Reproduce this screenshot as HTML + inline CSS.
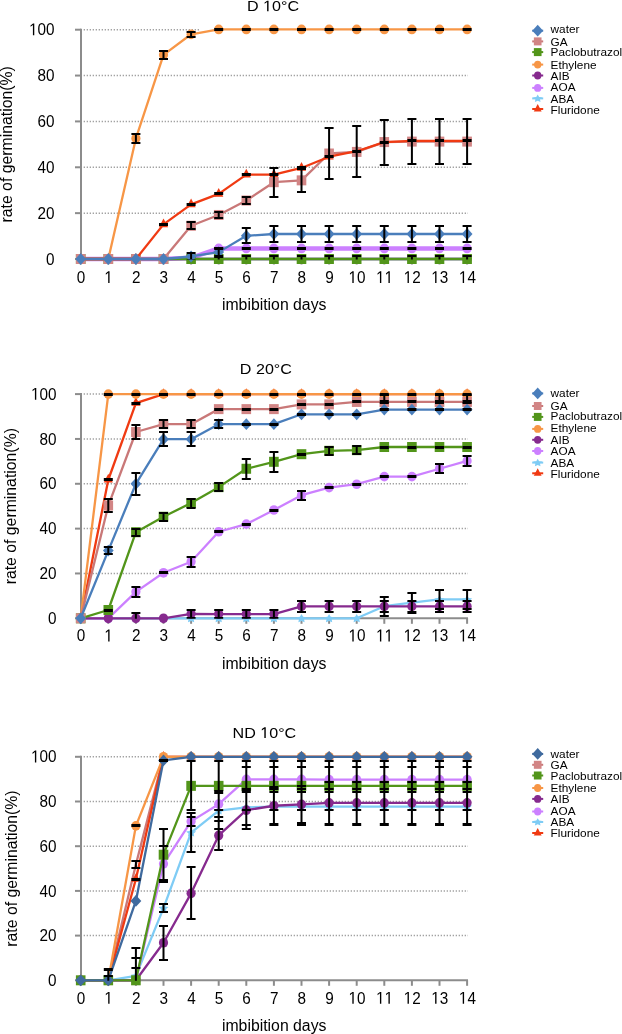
<!DOCTYPE html>
<html><head><meta charset="utf-8"><style>html,body{margin:0;padding:0;background:#fff;}svg{display:block;will-change:transform;}text{font-family:"Liberation Sans",sans-serif;}</style></head>
<body>
<svg width="622" height="1034" viewBox="0 0 622 1034" font-family='"Liberation Sans", sans-serif' fill="#000">
<rect width="622" height="1034" fill="#fff"/>
<line x1="83.7" y1="213.14" x2="468" y2="213.14" stroke="#989898" stroke-width="1.5" stroke-dasharray="1.2 1.8"/>
<line x1="83.7" y1="167.28" x2="468" y2="167.28" stroke="#989898" stroke-width="1.5" stroke-dasharray="1.2 1.8"/>
<line x1="83.7" y1="121.42" x2="468" y2="121.42" stroke="#989898" stroke-width="1.5" stroke-dasharray="1.2 1.8"/>
<line x1="83.7" y1="75.56" x2="468" y2="75.56" stroke="#989898" stroke-width="1.5" stroke-dasharray="1.2 1.8"/>
<line x1="83.7" y1="29.7" x2="200" y2="29.7" stroke="#989898" stroke-width="1.5" stroke-dasharray="1.2 1.8"/>
<line x1="81" y1="28.7" x2="81" y2="259" stroke="#8c8c8c" stroke-width="2"/>
<line x1="75" y1="259" x2="81" y2="259" stroke="#8c8c8c" stroke-width="2"/>
<line x1="75" y1="213.14" x2="81" y2="213.14" stroke="#8c8c8c" stroke-width="2"/>
<line x1="75" y1="167.28" x2="81" y2="167.28" stroke="#8c8c8c" stroke-width="2"/>
<line x1="75" y1="121.42" x2="81" y2="121.42" stroke="#8c8c8c" stroke-width="2"/>
<line x1="75" y1="75.56" x2="81" y2="75.56" stroke="#8c8c8c" stroke-width="2"/>
<line x1="75" y1="29.7" x2="81" y2="29.7" stroke="#8c8c8c" stroke-width="2"/>
<line x1="80" y1="259" x2="468" y2="259" stroke="#8c8c8c" stroke-width="2"/>
<line x1="80.7" y1="259" x2="80.7" y2="264.5" stroke="#8c8c8c" stroke-width="2"/>
<line x1="108.3" y1="259" x2="108.3" y2="264.5" stroke="#8c8c8c" stroke-width="2"/>
<line x1="135.9" y1="259" x2="135.9" y2="264.5" stroke="#8c8c8c" stroke-width="2"/>
<line x1="163.5" y1="259" x2="163.5" y2="264.5" stroke="#8c8c8c" stroke-width="2"/>
<line x1="191.1" y1="259" x2="191.1" y2="264.5" stroke="#8c8c8c" stroke-width="2"/>
<line x1="218.7" y1="259" x2="218.7" y2="264.5" stroke="#8c8c8c" stroke-width="2"/>
<line x1="246.3" y1="259" x2="246.3" y2="264.5" stroke="#8c8c8c" stroke-width="2"/>
<line x1="273.9" y1="259" x2="273.9" y2="264.5" stroke="#8c8c8c" stroke-width="2"/>
<line x1="301.5" y1="259" x2="301.5" y2="264.5" stroke="#8c8c8c" stroke-width="2"/>
<line x1="329.1" y1="259" x2="329.1" y2="264.5" stroke="#8c8c8c" stroke-width="2"/>
<line x1="356.7" y1="259" x2="356.7" y2="264.5" stroke="#8c8c8c" stroke-width="2"/>
<line x1="384.3" y1="259" x2="384.3" y2="264.5" stroke="#8c8c8c" stroke-width="2"/>
<line x1="411.9" y1="259" x2="411.9" y2="264.5" stroke="#8c8c8c" stroke-width="2"/>
<line x1="439.5" y1="259" x2="439.5" y2="264.5" stroke="#8c8c8c" stroke-width="2"/>
<line x1="467.1" y1="259" x2="467.1" y2="264.5" stroke="#8c8c8c" stroke-width="2"/>
<clipPath id="c259"><rect x="0" y="0" width="622" height="259.5"/></clipPath>
<path d="M80.7 253.1L85.3 261.8L76.1 261.8Z" fill="#F03A12"/>
<path d="M108.3 253.1L112.9 261.8L103.7 261.8Z" fill="#F03A12"/>
<path d="M135.9 253.1L140.5 261.8L131.3 261.8Z" fill="#F03A12"/>
<path d="M163.5 218.48L168.1 227.18L158.9 227.18Z" fill="#F03A12"/>
<path d="M191.1 198.53L195.7 207.23L186.5 207.23Z" fill="#F03A12"/>
<path d="M218.7 187.98L223.3 196.68L214.1 196.68Z" fill="#F03A12"/>
<path d="M246.3 168.72L250.9 177.42L241.7 177.42Z" fill="#F03A12"/>
<path d="M273.9 168.72L278.5 177.42L269.3 177.42Z" fill="#F03A12"/>
<path d="M301.5 162.07L306.1 170.77L296.9 170.77Z" fill="#F03A12"/>
<path d="M329.1 150.83L333.7 159.53L324.5 159.53Z" fill="#F03A12"/>
<path d="M356.7 145.33L361.3 154.03L352.1 154.03Z" fill="#F03A12"/>
<path d="M384.3 136.16L388.9 144.86L379.7 144.86Z" fill="#F03A12"/>
<path d="M411.9 135.01L416.5 143.71L407.3 143.71Z" fill="#F03A12"/>
<path d="M439.5 135.01L444.1 143.71L434.9 143.71Z" fill="#F03A12"/>
<path d="M467.1 135.01L471.7 143.71L462.5 143.71Z" fill="#F03A12"/>
<polyline points="80.7,259 108.3,259 135.9,259 163.5,259 191.1,259 218.7,259 246.3,259 273.9,259 301.5,259 329.1,259 356.7,259 384.3,259 411.9,259 439.5,259 467.1,259" fill="none" stroke="#7FCCF5" stroke-width="2.3" stroke-linejoin="round"/>
<path d="M80.7 254.8L82.29 257.44L85.74 257.91L83.27 260.01L83.82 262.94L80.7 261.6L77.58 262.94L78.13 260.01L75.66 257.91L79.11 257.44Z" fill="#7FCCF5"/>
<path d="M108.3 254.8L109.89 257.44L113.34 257.91L110.87 260.01L111.42 262.94L108.3 261.6L105.18 262.94L105.73 260.01L103.26 257.91L106.71 257.44Z" fill="#7FCCF5"/>
<path d="M135.9 254.8L137.49 257.44L140.94 257.91L138.47 260.01L139.02 262.94L135.9 261.6L132.78 262.94L133.33 260.01L130.86 257.91L134.31 257.44Z" fill="#7FCCF5"/>
<path d="M163.5 254.8L165.09 257.44L168.54 257.91L166.07 260.01L166.62 262.94L163.5 261.6L160.38 262.94L160.93 260.01L158.46 257.91L161.91 257.44Z" fill="#7FCCF5"/>
<path d="M191.1 254.8L192.69 257.44L196.14 257.91L193.67 260.01L194.22 262.94L191.1 261.6L187.98 262.94L188.53 260.01L186.06 257.91L189.51 257.44Z" fill="#7FCCF5"/>
<path d="M218.7 254.8L220.29 257.44L223.74 257.91L221.27 260.01L221.82 262.94L218.7 261.6L215.58 262.94L216.13 260.01L213.66 257.91L217.11 257.44Z" fill="#7FCCF5"/>
<path d="M246.3 254.8L247.89 257.44L251.34 257.91L248.87 260.01L249.42 262.94L246.3 261.6L243.18 262.94L243.73 260.01L241.26 257.91L244.71 257.44Z" fill="#7FCCF5"/>
<path d="M273.9 254.8L275.49 257.44L278.94 257.91L276.47 260.01L277.02 262.94L273.9 261.6L270.78 262.94L271.33 260.01L268.86 257.91L272.31 257.44Z" fill="#7FCCF5"/>
<path d="M301.5 254.8L303.09 257.44L306.54 257.91L304.07 260.01L304.62 262.94L301.5 261.6L298.38 262.94L298.93 260.01L296.46 257.91L299.91 257.44Z" fill="#7FCCF5"/>
<path d="M329.1 254.8L330.69 257.44L334.14 257.91L331.67 260.01L332.22 262.94L329.1 261.6L325.98 262.94L326.53 260.01L324.06 257.91L327.51 257.44Z" fill="#7FCCF5"/>
<path d="M356.7 254.8L358.29 257.44L361.74 257.91L359.27 260.01L359.82 262.94L356.7 261.6L353.58 262.94L354.13 260.01L351.66 257.91L355.11 257.44Z" fill="#7FCCF5"/>
<path d="M384.3 254.8L385.89 257.44L389.34 257.91L386.87 260.01L387.42 262.94L384.3 261.6L381.18 262.94L381.73 260.01L379.26 257.91L382.71 257.44Z" fill="#7FCCF5"/>
<path d="M411.9 254.8L413.49 257.44L416.94 257.91L414.47 260.01L415.02 262.94L411.9 261.6L408.78 262.94L409.33 260.01L406.86 257.91L410.31 257.44Z" fill="#7FCCF5"/>
<path d="M439.5 254.8L441.09 257.44L444.54 257.91L442.07 260.01L442.62 262.94L439.5 261.6L436.38 262.94L436.93 260.01L434.46 257.91L437.91 257.44Z" fill="#7FCCF5"/>
<path d="M467.1 254.8L468.69 257.44L472.14 257.91L469.67 260.01L470.22 262.94L467.1 261.6L463.98 262.94L464.53 260.01L462.06 257.91L465.51 257.44Z" fill="#7FCCF5"/>
<polyline points="80.7,259 108.3,259 135.9,259 163.5,259 191.1,257.85 218.7,248.45 246.3,248.45 273.9,248.45 301.5,248.45 329.1,248.45 356.7,248.45 384.3,248.45 411.9,248.45 439.5,248.45 467.1,248.45" fill="none" stroke="#CC80FF" stroke-width="4.5" stroke-linejoin="round"/>
<ellipse cx="80.7" cy="259" rx="4.6" ry="4.85" fill="#CC80FF"/>
<ellipse cx="108.3" cy="259" rx="4.6" ry="4.85" fill="#CC80FF"/>
<ellipse cx="135.9" cy="259" rx="4.6" ry="4.85" fill="#CC80FF"/>
<ellipse cx="163.5" cy="259" rx="4.6" ry="4.85" fill="#CC80FF"/>
<ellipse cx="191.1" cy="257.85" rx="4.6" ry="4.85" fill="#CC80FF"/>
<ellipse cx="218.7" cy="248.45" rx="4.6" ry="4.85" fill="#CC80FF"/>
<ellipse cx="246.3" cy="248.45" rx="4.6" ry="4.85" fill="#CC80FF"/>
<ellipse cx="273.9" cy="248.45" rx="4.6" ry="4.85" fill="#CC80FF"/>
<ellipse cx="301.5" cy="248.45" rx="4.6" ry="4.85" fill="#CC80FF"/>
<ellipse cx="329.1" cy="248.45" rx="4.6" ry="4.85" fill="#CC80FF"/>
<ellipse cx="356.7" cy="248.45" rx="4.6" ry="4.85" fill="#CC80FF"/>
<ellipse cx="384.3" cy="248.45" rx="4.6" ry="4.85" fill="#CC80FF"/>
<ellipse cx="411.9" cy="248.45" rx="4.6" ry="4.85" fill="#CC80FF"/>
<ellipse cx="439.5" cy="248.45" rx="4.6" ry="4.85" fill="#CC80FF"/>
<ellipse cx="467.1" cy="248.45" rx="4.6" ry="4.85" fill="#CC80FF"/>
<polyline points="80.7,259 108.3,259 135.9,259 163.5,259 191.1,259 218.7,259 246.3,259 273.9,259 301.5,259 329.1,259 356.7,259 384.3,259 411.9,259 439.5,259 467.1,259" fill="none" stroke="#862A8E" stroke-width="2.3" stroke-linejoin="round"/>
<ellipse cx="80.7" cy="259" rx="4.6" ry="4.85" fill="#862A8E"/>
<ellipse cx="108.3" cy="259" rx="4.6" ry="4.85" fill="#862A8E"/>
<ellipse cx="135.9" cy="259" rx="4.6" ry="4.85" fill="#862A8E"/>
<ellipse cx="163.5" cy="259" rx="4.6" ry="4.85" fill="#862A8E"/>
<ellipse cx="191.1" cy="259" rx="4.6" ry="4.85" fill="#862A8E"/>
<ellipse cx="218.7" cy="259" rx="4.6" ry="4.85" fill="#862A8E"/>
<ellipse cx="246.3" cy="259" rx="4.6" ry="4.85" fill="#862A8E"/>
<ellipse cx="273.9" cy="259" rx="4.6" ry="4.85" fill="#862A8E"/>
<ellipse cx="301.5" cy="259" rx="4.6" ry="4.85" fill="#862A8E"/>
<ellipse cx="329.1" cy="259" rx="4.6" ry="4.85" fill="#862A8E"/>
<ellipse cx="356.7" cy="259" rx="4.6" ry="4.85" fill="#862A8E"/>
<ellipse cx="384.3" cy="259" rx="4.6" ry="4.85" fill="#862A8E"/>
<ellipse cx="411.9" cy="259" rx="4.6" ry="4.85" fill="#862A8E"/>
<ellipse cx="439.5" cy="259" rx="4.6" ry="4.85" fill="#862A8E"/>
<ellipse cx="467.1" cy="259" rx="4.6" ry="4.85" fill="#862A8E"/>
<polyline points="80.7,259 108.3,259 135.9,138.39 163.5,54.92 191.1,34.29 218.7,29.47 246.3,29.47 273.9,29.47 301.5,29.47 329.1,29.47 356.7,29.47 384.3,29.47 411.9,29.47 439.5,29.47 467.1,29.47" fill="none" stroke="#F79646" stroke-width="2.3" stroke-linejoin="round"/>
<ellipse cx="80.7" cy="259" rx="4.6" ry="4.85" fill="#F79646"/>
<ellipse cx="108.3" cy="259" rx="4.6" ry="4.85" fill="#F79646"/>
<ellipse cx="135.9" cy="138.39" rx="4.6" ry="4.85" fill="#F79646"/>
<ellipse cx="163.5" cy="54.92" rx="4.6" ry="4.85" fill="#F79646"/>
<ellipse cx="191.1" cy="34.29" rx="4.6" ry="4.85" fill="#F79646"/>
<ellipse cx="218.7" cy="29.47" rx="4.6" ry="4.85" fill="#F79646"/>
<ellipse cx="246.3" cy="29.47" rx="4.6" ry="4.85" fill="#F79646"/>
<ellipse cx="273.9" cy="29.47" rx="4.6" ry="4.85" fill="#F79646"/>
<ellipse cx="301.5" cy="29.47" rx="4.6" ry="4.85" fill="#F79646"/>
<ellipse cx="329.1" cy="29.47" rx="4.6" ry="4.85" fill="#F79646"/>
<ellipse cx="356.7" cy="29.47" rx="4.6" ry="4.85" fill="#F79646"/>
<ellipse cx="384.3" cy="29.47" rx="4.6" ry="4.85" fill="#F79646"/>
<ellipse cx="411.9" cy="29.47" rx="4.6" ry="4.85" fill="#F79646"/>
<ellipse cx="439.5" cy="29.47" rx="4.6" ry="4.85" fill="#F79646"/>
<ellipse cx="467.1" cy="29.47" rx="4.6" ry="4.85" fill="#F79646"/>
<polyline points="80.7,259 108.3,259 135.9,259 163.5,259 191.1,259 218.7,259 246.3,259 273.9,259 301.5,259 329.1,259 356.7,259 384.3,259 411.9,259 439.5,259 467.1,259" fill="none" stroke="#52951A" stroke-width="2.3" stroke-linejoin="round"/>
<rect x="75.9" y="254" width="9.6" height="10" fill="#52951A"/>
<rect x="103.5" y="254" width="9.6" height="10" fill="#52951A"/>
<rect x="131.1" y="254" width="9.6" height="10" fill="#52951A"/>
<rect x="158.7" y="254" width="9.6" height="10" fill="#52951A"/>
<rect x="186.3" y="254" width="9.6" height="10" fill="#52951A"/>
<rect x="213.9" y="254" width="9.6" height="10" fill="#52951A"/>
<rect x="241.5" y="254" width="9.6" height="10" fill="#52951A"/>
<rect x="269.1" y="254" width="9.6" height="10" fill="#52951A"/>
<rect x="296.7" y="254" width="9.6" height="10" fill="#52951A"/>
<rect x="324.3" y="254" width="9.6" height="10" fill="#52951A"/>
<rect x="351.9" y="254" width="9.6" height="10" fill="#52951A"/>
<rect x="379.5" y="254" width="9.6" height="10" fill="#52951A"/>
<rect x="407.1" y="254" width="9.6" height="10" fill="#52951A"/>
<rect x="434.7" y="254" width="9.6" height="10" fill="#52951A"/>
<rect x="462.3" y="254" width="9.6" height="10" fill="#52951A"/>
<polyline points="80.7,259 108.3,259 135.9,259 163.5,259 191.1,225.75 218.7,214.97 246.3,200.53 273.9,182.18 301.5,180.35 329.1,153.52 356.7,151.92 384.3,142.06 411.9,141.6 439.5,141.6 467.1,141.6" fill="none" stroke="#C97878" stroke-width="2.3" stroke-linejoin="round"/>
<rect x="75.9" y="254" width="9.6" height="10" fill="#D28585"/>
<rect x="103.5" y="254" width="9.6" height="10" fill="#D28585"/>
<rect x="131.1" y="254" width="9.6" height="10" fill="#D28585"/>
<rect x="158.7" y="254" width="9.6" height="10" fill="#D28585"/>
<rect x="186.3" y="220.75" width="9.6" height="10" fill="#D28585"/>
<rect x="213.9" y="209.97" width="9.6" height="10" fill="#D28585"/>
<rect x="241.5" y="195.53" width="9.6" height="10" fill="#D28585"/>
<rect x="269.1" y="177.18" width="9.6" height="10" fill="#D28585"/>
<rect x="296.7" y="175.35" width="9.6" height="10" fill="#D28585"/>
<rect x="324.3" y="148.52" width="9.6" height="10" fill="#D28585"/>
<rect x="351.9" y="146.92" width="9.6" height="10" fill="#D28585"/>
<rect x="379.5" y="137.06" width="9.6" height="10" fill="#D28585"/>
<rect x="407.1" y="136.6" width="9.6" height="10" fill="#D28585"/>
<rect x="434.7" y="136.6" width="9.6" height="10" fill="#D28585"/>
<rect x="462.3" y="136.6" width="9.6" height="10" fill="#D28585"/>
<polyline points="80.7,259 108.3,259 135.9,259 163.5,224.38 191.1,204.43 218.7,193.88 246.3,174.62 273.9,174.62 301.5,167.97 329.1,156.73 356.7,151.23 384.3,142.06 411.9,140.91 439.5,140.91 467.1,140.91" fill="none" stroke="#F03A12" stroke-width="2.3" stroke-linejoin="round"/>
<polyline points="80.7,259 108.3,259 135.9,259 163.5,259 191.1,256.48 218.7,252.12 246.3,235.84 273.9,234.01 301.5,234.01 329.1,234.01 356.7,234.01 384.3,234.01 411.9,234.01 439.5,234.01 467.1,234.01" fill="none" stroke="#4A7EBB" stroke-width="2.3" stroke-linejoin="round"/>
<path d="M80.7 253.1L86.1 259L80.7 264.9L75.3 259Z" fill="#4A7EBB"/>
<path d="M108.3 253.1L113.7 259L108.3 264.9L102.9 259Z" fill="#4A7EBB"/>
<path d="M135.9 253.1L141.3 259L135.9 264.9L130.5 259Z" fill="#4A7EBB"/>
<path d="M163.5 253.1L168.9 259L163.5 264.9L158.1 259Z" fill="#4A7EBB"/>
<path d="M191.1 250.58L196.5 256.48L191.1 262.38L185.7 256.48Z" fill="#4A7EBB"/>
<path d="M218.7 246.22L224.1 252.12L218.7 258.02L213.3 252.12Z" fill="#4A7EBB"/>
<path d="M246.3 229.94L251.7 235.84L246.3 241.74L240.9 235.84Z" fill="#4A7EBB"/>
<path d="M273.9 228.11L279.3 234.01L273.9 239.91L268.5 234.01Z" fill="#4A7EBB"/>
<path d="M301.5 228.11L306.9 234.01L301.5 239.91L296.1 234.01Z" fill="#4A7EBB"/>
<path d="M329.1 228.11L334.5 234.01L329.1 239.91L323.7 234.01Z" fill="#4A7EBB"/>
<path d="M356.7 228.11L362.1 234.01L356.7 239.91L351.3 234.01Z" fill="#4A7EBB"/>
<path d="M384.3 228.11L389.7 234.01L384.3 239.91L378.9 234.01Z" fill="#4A7EBB"/>
<path d="M411.9 228.11L417.3 234.01L411.9 239.91L406.5 234.01Z" fill="#4A7EBB"/>
<path d="M439.5 228.11L444.9 234.01L439.5 239.91L434.1 234.01Z" fill="#4A7EBB"/>
<path d="M467.1 228.11L472.5 234.01L467.1 239.91L461.7 234.01Z" fill="#4A7EBB"/>
<path d="M135.9 134V143M131.4 134h9M131.4 143h9M163.5 51V59M159 51h9M159 59h9M191.1 32V37M186.6 32h9M186.6 37h9M218.7 256V262M214.2 256h9M214.2 262h9M246.3 256V262M241.8 256h9M241.8 262h9M273.9 256V262M269.4 256h9M269.4 262h9M301.5 256V262M297 256h9M297 262h9M329.1 256V262M324.6 256h9M324.6 262h9M356.7 256V262M352.2 256h9M352.2 262h9M384.3 256V262M379.8 256h9M379.8 262h9M411.9 256V262M407.4 256h9M407.4 262h9M439.5 256V262M435 256h9M435 262h9M467.1 256V262M462.6 256h9M462.6 262h9M191.1 222V229M186.6 222h9M186.6 229h9M218.7 212V218M214.2 212h9M214.2 218h9M246.3 197V204M241.8 197h9M241.8 204h9M273.9 168V197M269.4 168h9M269.4 197h9M301.5 169V192M297 169h9M297 192h9M329.1 128V179M324.6 128h9M324.6 179h9M356.7 126V177M352.2 126h9M352.2 177h9M384.3 120V165M379.8 120h9M379.8 165h9M411.9 119V164M407.4 119h9M407.4 164h9M439.5 119V164M435 119h9M435 164h9M467.1 119V164M462.6 119h9M462.6 164h9M191.1 253V260M186.6 253h9M186.6 260h9M218.7 248V257M214.2 248h9M214.2 257h9M246.3 228V243M241.8 228h9M241.8 243h9M273.9 226V242M269.4 226h9M269.4 242h9M301.5 226V242M297 226h9M297 242h9M329.1 226V242M324.6 226h9M324.6 242h9M356.7 226V242M352.2 226h9M352.2 242h9M384.3 226V242M379.8 226h9M379.8 242h9M411.9 226V242M407.4 226h9M407.4 242h9M439.5 226V242M435 226h9M435 242h9M467.1 226V242M462.6 226h9M462.6 242h9" stroke="#000" stroke-width="2" fill="none" clip-path="url(#c259)"/>
<path d="M159 224.5h9M186.6 204.5h9M214.2 193.5h9M241.8 174.5h9M269.4 174.5h9M297 167.5h9M324.6 156.5h9M352.2 151.5h9M379.8 142.5h9M407.4 140.5h9M435 140.5h9M462.6 140.5h9M214.2 248.5h9M241.8 248.5h9M269.4 248.5h9M297 248.5h9M324.6 248.5h9M352.2 248.5h9M379.8 248.5h9M407.4 248.5h9M435 248.5h9M462.6 248.5h9M214.2 29.5h9M241.8 29.5h9M269.4 29.5h9M297 29.5h9M324.6 29.5h9M352.2 29.5h9M379.8 29.5h9M407.4 29.5h9M435 29.5h9M462.6 29.5h9" stroke="#000" stroke-width="2.8" fill="none"/>
<g transform="translate(46.09 264.6) scale(1 1.12)"><text x="0" y="0" font-size="15.3" style="font-kerning:none">0</text></g>
<g transform="translate(37.58 218.74) scale(1 1.12)"><text x="0" y="0" font-size="15.3" style="font-kerning:none">20</text></g>
<g transform="translate(37.58 172.88) scale(1 1.12)"><text x="0" y="0" font-size="15.3" style="font-kerning:none">40</text></g>
<g transform="translate(37.58 127.02) scale(1 1.12)"><text x="0" y="0" font-size="15.3" style="font-kerning:none">60</text></g>
<g transform="translate(37.58 81.16) scale(1 1.12)"><text x="0" y="0" font-size="15.3" style="font-kerning:none">80</text></g>
<g transform="translate(29.07 35.3) scale(1 1.12)"><path transform="translate(0 0) scale(0.007471 -0.007471)" d="M515 0L515 1237L197 1010L197 1180L530 1409L696 1409L696 0Z"/><text x="8.51" y="0" font-size="15.3" style="font-kerning:none">00</text></g>
<g transform="translate(76.75 283.1) scale(1 1.12)"><text x="0" y="0" font-size="15.3" style="font-kerning:none">0</text></g>
<g transform="translate(104.35 283.1) scale(1 1.12)"><path transform="translate(0 0) scale(0.007471 -0.007471)" d="M515 0L515 1237L197 1010L197 1180L530 1409L696 1409L696 0Z"/></g>
<g transform="translate(131.95 283.1) scale(1 1.12)"><text x="0" y="0" font-size="15.3" style="font-kerning:none">2</text></g>
<g transform="translate(159.55 283.1) scale(1 1.12)"><text x="0" y="0" font-size="15.3" style="font-kerning:none">3</text></g>
<g transform="translate(187.15 283.1) scale(1 1.12)"><text x="0" y="0" font-size="15.3" style="font-kerning:none">4</text></g>
<g transform="translate(214.75 283.1) scale(1 1.12)"><text x="0" y="0" font-size="15.3" style="font-kerning:none">5</text></g>
<g transform="translate(242.35 283.1) scale(1 1.12)"><text x="0" y="0" font-size="15.3" style="font-kerning:none">6</text></g>
<g transform="translate(269.95 283.1) scale(1 1.12)"><text x="0" y="0" font-size="15.3" style="font-kerning:none">7</text></g>
<g transform="translate(297.55 283.1) scale(1 1.12)"><text x="0" y="0" font-size="15.3" style="font-kerning:none">8</text></g>
<g transform="translate(325.15 283.1) scale(1 1.12)"><text x="0" y="0" font-size="15.3" style="font-kerning:none">9</text></g>
<g transform="translate(348.49 283.1) scale(1 1.12)"><path transform="translate(0 0) scale(0.007471 -0.007471)" d="M515 0L515 1237L197 1010L197 1180L530 1409L696 1409L696 0Z"/><text x="8.51" y="0" font-size="15.3" style="font-kerning:none">0</text></g>
<g transform="translate(376.09 283.1) scale(1 1.12)"><path transform="translate(0 0) scale(0.007471 -0.007471)" d="M515 0L515 1237L197 1010L197 1180L530 1409L696 1409L696 0Z"/><path transform="translate(8.51 0) scale(0.007471 -0.007471)" d="M515 0L515 1237L197 1010L197 1180L530 1409L696 1409L696 0Z"/></g>
<g transform="translate(403.69 283.1) scale(1 1.12)"><path transform="translate(0 0) scale(0.007471 -0.007471)" d="M515 0L515 1237L197 1010L197 1180L530 1409L696 1409L696 0Z"/><text x="8.51" y="0" font-size="15.3" style="font-kerning:none">2</text></g>
<g transform="translate(431.29 283.1) scale(1 1.12)"><path transform="translate(0 0) scale(0.007471 -0.007471)" d="M515 0L515 1237L197 1010L197 1180L530 1409L696 1409L696 0Z"/><text x="8.51" y="0" font-size="15.3" style="font-kerning:none">3</text></g>
<g transform="translate(458.89 283.1) scale(1 1.12)"><path transform="translate(0 0) scale(0.007471 -0.007471)" d="M515 0L515 1237L197 1010L197 1180L530 1409L696 1409L696 0Z"/><text x="8.51" y="0" font-size="15.3" style="font-kerning:none">4</text></g>
<text x="274.2" y="310.1" text-anchor="middle" font-size="15.8">imbibition days</text>
<text transform="translate(11.8 144.35) rotate(-90)" text-anchor="middle" font-size="15.8">rate of germination(%)</text>
<g transform="translate(246.96 11.3) scale(1 0.96)"><text x="0" y="0" font-size="16.1" style="font-kerning:none">D </text><path transform="translate(16.1 0) scale(0.007861 -0.007861)" d="M515 0L515 1237L197 1010L197 1180L530 1409L696 1409L696 0Z"/><text x="25.05" y="0" font-size="16.1" style="font-kerning:none">0°C</text></g>
<line x1="532.2" y1="30.7" x2="543.2" y2="30.7" stroke="#4A7EBB" stroke-width="2"/>
<path d="M537.7 24.8L543.1 30.7L537.7 36.6L532.3 30.7Z" fill="#4A7EBB"/>
<text x="550.6" y="33" font-size="11.8">water</text>
<line x1="532.2" y1="41.4" x2="543.2" y2="41.4" stroke="#C97878" stroke-width="2"/>
<rect x="533.86" y="37.4" width="7.68" height="8" fill="#D28585"/>
<text x="550.6" y="45.8" font-size="11.8">GA</text>
<line x1="532.2" y1="52.1" x2="543.2" y2="52.1" stroke="#52951A" stroke-width="2"/>
<rect x="533.86" y="48.1" width="7.68" height="8" fill="#52951A"/>
<text x="550.6" y="56.2" font-size="11.8">Paclobutrazol</text>
<line x1="532.2" y1="64.6" x2="543.2" y2="64.6" stroke="#F79646" stroke-width="2"/>
<ellipse cx="537.7" cy="64.6" rx="3.68" ry="3.88" fill="#F79646"/>
<text x="550.6" y="69" font-size="11.8">Ethylene</text>
<line x1="532.2" y1="75.5" x2="543.2" y2="75.5" stroke="#862A8E" stroke-width="2"/>
<ellipse cx="537.7" cy="75.5" rx="3.68" ry="3.88" fill="#862A8E"/>
<text x="550.6" y="79.9" font-size="11.8">AIB</text>
<line x1="532.2" y1="87.9" x2="543.2" y2="87.9" stroke="#CC80FF" stroke-width="2"/>
<ellipse cx="537.7" cy="87.9" rx="3.68" ry="3.88" fill="#CC80FF"/>
<text x="550.6" y="90.5" font-size="11.8">AOA</text>
<line x1="532.2" y1="98.4" x2="543.2" y2="98.4" stroke="#7FCCF5" stroke-width="2"/>
<path d="M537.7 94.62L539.13 97L542.24 97.42L540.01 99.31L540.5 101.95L537.7 100.74L534.9 101.95L535.39 99.31L533.16 97.42L536.27 97Z" fill="#7FCCF5"/>
<text x="550.6" y="103" font-size="11.8">ABA</text>
<line x1="532.2" y1="109" x2="543.2" y2="109" stroke="#F03A12" stroke-width="2"/>
<path d="M537.7 103.98L541.61 111.38L533.79 111.38Z" fill="#F03A12"/>
<text x="550.6" y="114.3" font-size="11.8">Fluridone</text>
<line x1="83.7" y1="573.46" x2="468" y2="573.46" stroke="#989898" stroke-width="1.5" stroke-dasharray="1.2 1.8"/>
<line x1="83.7" y1="528.62" x2="468" y2="528.62" stroke="#989898" stroke-width="1.5" stroke-dasharray="1.2 1.8"/>
<line x1="83.7" y1="483.78" x2="468" y2="483.78" stroke="#989898" stroke-width="1.5" stroke-dasharray="1.2 1.8"/>
<line x1="83.7" y1="438.94" x2="468" y2="438.94" stroke="#989898" stroke-width="1.5" stroke-dasharray="1.2 1.8"/>
<line x1="83.7" y1="394.1" x2="105" y2="394.1" stroke="#989898" stroke-width="1.5" stroke-dasharray="1.2 1.8"/>
<line x1="81" y1="393.1" x2="81" y2="618.3" stroke="#8c8c8c" stroke-width="2"/>
<line x1="75" y1="618.3" x2="81" y2="618.3" stroke="#8c8c8c" stroke-width="2"/>
<line x1="75" y1="573.46" x2="81" y2="573.46" stroke="#8c8c8c" stroke-width="2"/>
<line x1="75" y1="528.62" x2="81" y2="528.62" stroke="#8c8c8c" stroke-width="2"/>
<line x1="75" y1="483.78" x2="81" y2="483.78" stroke="#8c8c8c" stroke-width="2"/>
<line x1="75" y1="438.94" x2="81" y2="438.94" stroke="#8c8c8c" stroke-width="2"/>
<line x1="75" y1="394.1" x2="81" y2="394.1" stroke="#8c8c8c" stroke-width="2"/>
<line x1="80" y1="618.3" x2="468" y2="618.3" stroke="#8c8c8c" stroke-width="2"/>
<line x1="80.7" y1="618.3" x2="80.7" y2="623.8" stroke="#8c8c8c" stroke-width="2"/>
<line x1="108.3" y1="618.3" x2="108.3" y2="623.8" stroke="#8c8c8c" stroke-width="2"/>
<line x1="135.9" y1="618.3" x2="135.9" y2="623.8" stroke="#8c8c8c" stroke-width="2"/>
<line x1="163.5" y1="618.3" x2="163.5" y2="623.8" stroke="#8c8c8c" stroke-width="2"/>
<line x1="191.1" y1="618.3" x2="191.1" y2="623.8" stroke="#8c8c8c" stroke-width="2"/>
<line x1="218.7" y1="618.3" x2="218.7" y2="623.8" stroke="#8c8c8c" stroke-width="2"/>
<line x1="246.3" y1="618.3" x2="246.3" y2="623.8" stroke="#8c8c8c" stroke-width="2"/>
<line x1="273.9" y1="618.3" x2="273.9" y2="623.8" stroke="#8c8c8c" stroke-width="2"/>
<line x1="301.5" y1="618.3" x2="301.5" y2="623.8" stroke="#8c8c8c" stroke-width="2"/>
<line x1="329.1" y1="618.3" x2="329.1" y2="623.8" stroke="#8c8c8c" stroke-width="2"/>
<line x1="356.7" y1="618.3" x2="356.7" y2="623.8" stroke="#8c8c8c" stroke-width="2"/>
<line x1="384.3" y1="618.3" x2="384.3" y2="623.8" stroke="#8c8c8c" stroke-width="2"/>
<line x1="411.9" y1="618.3" x2="411.9" y2="623.8" stroke="#8c8c8c" stroke-width="2"/>
<line x1="439.5" y1="618.3" x2="439.5" y2="623.8" stroke="#8c8c8c" stroke-width="2"/>
<line x1="467.1" y1="618.3" x2="467.1" y2="623.8" stroke="#8c8c8c" stroke-width="2"/>
<clipPath id="c618"><rect x="0" y="0" width="622" height="618.8"/></clipPath>
<polyline points="80.7,618.3 108.3,479.74 135.9,403.07 163.5,394.1 191.1,394.1 218.7,394.1 246.3,394.1 273.9,394.1 301.5,394.1 329.1,394.1 356.7,394.1 384.3,394.1 411.9,394.1 439.5,394.1 467.1,394.1" fill="none" stroke="#F03A12" stroke-width="2.3" stroke-linejoin="round"/>
<path d="M80.7 612.4L85.3 621.1L76.1 621.1Z" fill="#F03A12"/>
<path d="M108.3 473.84L112.9 482.54L103.7 482.54Z" fill="#F03A12"/>
<path d="M135.9 397.17L140.5 405.87L131.3 405.87Z" fill="#F03A12"/>
<path d="M163.5 388.2L168.1 396.9L158.9 396.9Z" fill="#F03A12"/>
<path d="M191.1 388.2L195.7 396.9L186.5 396.9Z" fill="#F03A12"/>
<path d="M218.7 388.2L223.3 396.9L214.1 396.9Z" fill="#F03A12"/>
<path d="M246.3 388.2L250.9 396.9L241.7 396.9Z" fill="#F03A12"/>
<path d="M273.9 388.2L278.5 396.9L269.3 396.9Z" fill="#F03A12"/>
<path d="M301.5 388.2L306.1 396.9L296.9 396.9Z" fill="#F03A12"/>
<path d="M329.1 388.2L333.7 396.9L324.5 396.9Z" fill="#F03A12"/>
<path d="M356.7 388.2L361.3 396.9L352.1 396.9Z" fill="#F03A12"/>
<path d="M384.3 388.2L388.9 396.9L379.7 396.9Z" fill="#F03A12"/>
<path d="M411.9 388.2L416.5 396.9L407.3 396.9Z" fill="#F03A12"/>
<path d="M439.5 388.2L444.1 396.9L434.9 396.9Z" fill="#F03A12"/>
<path d="M467.1 388.2L471.7 396.9L462.5 396.9Z" fill="#F03A12"/>
<polyline points="80.7,618.3 108.3,618.3 135.9,618.3 163.5,618.3 191.1,618.3 218.7,618.3 246.3,618.3 273.9,618.3 301.5,618.3 329.1,618.3 356.7,618.3 384.3,606.19 411.9,602.61 439.5,599.47 467.1,599.47" fill="none" stroke="#7FCCF5" stroke-width="2.3" stroke-linejoin="round"/>
<path d="M80.7 614.09L82.29 616.74L85.74 617.21L83.27 619.31L83.82 622.24L80.7 620.89L77.58 622.24L78.13 619.31L75.66 617.21L79.11 616.74Z" fill="#7FCCF5"/>
<path d="M108.3 614.09L109.89 616.74L113.34 617.21L110.87 619.31L111.42 622.24L108.3 620.89L105.18 622.24L105.73 619.31L103.26 617.21L106.71 616.74Z" fill="#7FCCF5"/>
<path d="M135.9 614.09L137.49 616.74L140.94 617.21L138.47 619.31L139.02 622.24L135.9 620.89L132.78 622.24L133.33 619.31L130.86 617.21L134.31 616.74Z" fill="#7FCCF5"/>
<path d="M163.5 614.09L165.09 616.74L168.54 617.21L166.07 619.31L166.62 622.24L163.5 620.89L160.38 622.24L160.93 619.31L158.46 617.21L161.91 616.74Z" fill="#7FCCF5"/>
<path d="M191.1 614.09L192.69 616.74L196.14 617.21L193.67 619.31L194.22 622.24L191.1 620.89L187.98 622.24L188.53 619.31L186.06 617.21L189.51 616.74Z" fill="#7FCCF5"/>
<path d="M218.7 614.09L220.29 616.74L223.74 617.21L221.27 619.31L221.82 622.24L218.7 620.89L215.58 622.24L216.13 619.31L213.66 617.21L217.11 616.74Z" fill="#7FCCF5"/>
<path d="M246.3 614.09L247.89 616.74L251.34 617.21L248.87 619.31L249.42 622.24L246.3 620.89L243.18 622.24L243.73 619.31L241.26 617.21L244.71 616.74Z" fill="#7FCCF5"/>
<path d="M273.9 614.09L275.49 616.74L278.94 617.21L276.47 619.31L277.02 622.24L273.9 620.89L270.78 622.24L271.33 619.31L268.86 617.21L272.31 616.74Z" fill="#7FCCF5"/>
<path d="M301.5 614.09L303.09 616.74L306.54 617.21L304.07 619.31L304.62 622.24L301.5 620.89L298.38 622.24L298.93 619.31L296.46 617.21L299.91 616.74Z" fill="#7FCCF5"/>
<path d="M329.1 614.09L330.69 616.74L334.14 617.21L331.67 619.31L332.22 622.24L329.1 620.89L325.98 622.24L326.53 619.31L324.06 617.21L327.51 616.74Z" fill="#7FCCF5"/>
<path d="M356.7 614.09L358.29 616.74L361.74 617.21L359.27 619.31L359.82 622.24L356.7 620.89L353.58 622.24L354.13 619.31L351.66 617.21L355.11 616.74Z" fill="#7FCCF5"/>
<path d="M384.3 601.99L385.89 604.64L389.34 605.1L386.87 607.2L387.42 610.14L384.3 608.79L381.18 610.14L381.73 607.2L379.26 605.1L382.71 604.64Z" fill="#7FCCF5"/>
<path d="M411.9 598.4L413.49 601.05L416.94 601.51L414.47 603.62L415.02 606.55L411.9 605.2L408.78 606.55L409.33 603.62L406.86 601.51L410.31 601.05Z" fill="#7FCCF5"/>
<path d="M439.5 595.26L441.09 597.91L444.54 598.38L442.07 600.48L442.62 603.41L439.5 602.06L436.38 603.41L436.93 600.48L434.46 598.38L437.91 597.91Z" fill="#7FCCF5"/>
<path d="M467.1 595.26L468.69 597.91L472.14 598.38L469.67 600.48L470.22 603.41L467.1 602.06L463.98 603.41L464.53 600.48L462.06 598.38L465.51 597.91Z" fill="#7FCCF5"/>
<polyline points="80.7,618.3 108.3,618.3 135.9,591.84 163.5,572.79 191.1,561.8 218.7,531.76 246.3,524.14 273.9,510.01 301.5,495.21 329.1,487.59 356.7,484.23 384.3,476.61 411.9,476.61 439.5,468.76 467.1,460.91" fill="none" stroke="#CC80FF" stroke-width="2.3" stroke-linejoin="round"/>
<ellipse cx="80.7" cy="618.3" rx="4.6" ry="4.85" fill="#CC80FF"/>
<ellipse cx="108.3" cy="618.3" rx="4.6" ry="4.85" fill="#CC80FF"/>
<ellipse cx="135.9" cy="591.84" rx="4.6" ry="4.85" fill="#CC80FF"/>
<ellipse cx="163.5" cy="572.79" rx="4.6" ry="4.85" fill="#CC80FF"/>
<ellipse cx="191.1" cy="561.8" rx="4.6" ry="4.85" fill="#CC80FF"/>
<ellipse cx="218.7" cy="531.76" rx="4.6" ry="4.85" fill="#CC80FF"/>
<ellipse cx="246.3" cy="524.14" rx="4.6" ry="4.85" fill="#CC80FF"/>
<ellipse cx="273.9" cy="510.01" rx="4.6" ry="4.85" fill="#CC80FF"/>
<ellipse cx="301.5" cy="495.21" rx="4.6" ry="4.85" fill="#CC80FF"/>
<ellipse cx="329.1" cy="487.59" rx="4.6" ry="4.85" fill="#CC80FF"/>
<ellipse cx="356.7" cy="484.23" rx="4.6" ry="4.85" fill="#CC80FF"/>
<ellipse cx="384.3" cy="476.61" rx="4.6" ry="4.85" fill="#CC80FF"/>
<ellipse cx="411.9" cy="476.61" rx="4.6" ry="4.85" fill="#CC80FF"/>
<ellipse cx="439.5" cy="468.76" rx="4.6" ry="4.85" fill="#CC80FF"/>
<ellipse cx="467.1" cy="460.91" rx="4.6" ry="4.85" fill="#CC80FF"/>
<polyline points="80.7,618.3 108.3,618.3 135.9,618.3 163.5,618.3 191.1,613.82 218.7,614.04 246.3,614.04 273.9,614.04 301.5,606.42 329.1,606.42 356.7,606.42 384.3,606.42 411.9,606.42 439.5,606.42 467.1,606.42" fill="none" stroke="#862A8E" stroke-width="2.3" stroke-linejoin="round"/>
<ellipse cx="80.7" cy="618.3" rx="4.6" ry="4.85" fill="#862A8E"/>
<ellipse cx="108.3" cy="618.3" rx="4.6" ry="4.85" fill="#862A8E"/>
<ellipse cx="135.9" cy="618.3" rx="4.6" ry="4.85" fill="#862A8E"/>
<ellipse cx="163.5" cy="618.3" rx="4.6" ry="4.85" fill="#862A8E"/>
<ellipse cx="191.1" cy="613.82" rx="4.6" ry="4.85" fill="#862A8E"/>
<ellipse cx="218.7" cy="614.04" rx="4.6" ry="4.85" fill="#862A8E"/>
<ellipse cx="246.3" cy="614.04" rx="4.6" ry="4.85" fill="#862A8E"/>
<ellipse cx="273.9" cy="614.04" rx="4.6" ry="4.85" fill="#862A8E"/>
<ellipse cx="301.5" cy="606.42" rx="4.6" ry="4.85" fill="#862A8E"/>
<ellipse cx="329.1" cy="606.42" rx="4.6" ry="4.85" fill="#862A8E"/>
<ellipse cx="356.7" cy="606.42" rx="4.6" ry="4.85" fill="#862A8E"/>
<ellipse cx="384.3" cy="606.42" rx="4.6" ry="4.85" fill="#862A8E"/>
<ellipse cx="411.9" cy="606.42" rx="4.6" ry="4.85" fill="#862A8E"/>
<ellipse cx="439.5" cy="606.42" rx="4.6" ry="4.85" fill="#862A8E"/>
<ellipse cx="467.1" cy="606.42" rx="4.6" ry="4.85" fill="#862A8E"/>
<polyline points="80.7,618.3 108.3,394.1 135.9,394.1 163.5,394.1 191.1,394.1 218.7,394.1 246.3,394.1 273.9,394.1 301.5,394.1 329.1,394.1 356.7,394.1 384.3,394.1 411.9,394.1 439.5,394.1 467.1,394.1" fill="none" stroke="#F79646" stroke-width="2.3" stroke-linejoin="round"/>
<ellipse cx="80.7" cy="618.3" rx="4.6" ry="4.85" fill="#F79646"/>
<ellipse cx="108.3" cy="394.1" rx="4.6" ry="4.85" fill="#F79646"/>
<ellipse cx="135.9" cy="394.1" rx="4.6" ry="4.85" fill="#F79646"/>
<ellipse cx="163.5" cy="394.1" rx="4.6" ry="4.85" fill="#F79646"/>
<ellipse cx="191.1" cy="394.1" rx="4.6" ry="4.85" fill="#F79646"/>
<ellipse cx="218.7" cy="394.1" rx="4.6" ry="4.85" fill="#F79646"/>
<ellipse cx="246.3" cy="394.1" rx="4.6" ry="4.85" fill="#F79646"/>
<ellipse cx="273.9" cy="394.1" rx="4.6" ry="4.85" fill="#F79646"/>
<ellipse cx="301.5" cy="394.1" rx="4.6" ry="4.85" fill="#F79646"/>
<ellipse cx="329.1" cy="394.1" rx="4.6" ry="4.85" fill="#F79646"/>
<ellipse cx="356.7" cy="394.1" rx="4.6" ry="4.85" fill="#F79646"/>
<ellipse cx="384.3" cy="394.1" rx="4.6" ry="4.85" fill="#F79646"/>
<ellipse cx="411.9" cy="394.1" rx="4.6" ry="4.85" fill="#F79646"/>
<ellipse cx="439.5" cy="394.1" rx="4.6" ry="4.85" fill="#F79646"/>
<ellipse cx="467.1" cy="394.1" rx="4.6" ry="4.85" fill="#F79646"/>
<polyline points="80.7,618.3 108.3,610 135.9,532.21 163.5,516.74 191.1,503.06 218.7,487.14 246.3,468.76 273.9,461.81 301.5,454.19 329.1,450.82 356.7,450.15 384.3,447.01 411.9,447.01 439.5,447.01 467.1,447.01" fill="none" stroke="#52951A" stroke-width="2.3" stroke-linejoin="round"/>
<rect x="75.9" y="613.3" width="9.6" height="10" fill="#52951A"/>
<rect x="103.5" y="605" width="9.6" height="10" fill="#52951A"/>
<rect x="131.1" y="527.21" width="9.6" height="10" fill="#52951A"/>
<rect x="158.7" y="511.74" width="9.6" height="10" fill="#52951A"/>
<rect x="186.3" y="498.06" width="9.6" height="10" fill="#52951A"/>
<rect x="213.9" y="482.14" width="9.6" height="10" fill="#52951A"/>
<rect x="241.5" y="463.76" width="9.6" height="10" fill="#52951A"/>
<rect x="269.1" y="456.81" width="9.6" height="10" fill="#52951A"/>
<rect x="296.7" y="449.19" width="9.6" height="10" fill="#52951A"/>
<rect x="324.3" y="445.82" width="9.6" height="10" fill="#52951A"/>
<rect x="351.9" y="445.15" width="9.6" height="10" fill="#52951A"/>
<rect x="379.5" y="442.01" width="9.6" height="10" fill="#52951A"/>
<rect x="407.1" y="442.01" width="9.6" height="10" fill="#52951A"/>
<rect x="434.7" y="442.01" width="9.6" height="10" fill="#52951A"/>
<rect x="462.3" y="442.01" width="9.6" height="10" fill="#52951A"/>
<polyline points="80.7,618.3 108.3,505.53 135.9,431.99 163.5,424.14 191.1,424.14 218.7,409.12 246.3,409.12 273.9,409.12 301.5,404.41 329.1,404.41 356.7,401.95 384.3,401.95 411.9,401.95 439.5,401.95 467.1,401.95" fill="none" stroke="#C97878" stroke-width="2.3" stroke-linejoin="round"/>
<rect x="75.9" y="613.3" width="9.6" height="10" fill="#D28585"/>
<rect x="103.5" y="500.53" width="9.6" height="10" fill="#D28585"/>
<rect x="131.1" y="426.99" width="9.6" height="10" fill="#D28585"/>
<rect x="158.7" y="419.14" width="9.6" height="10" fill="#D28585"/>
<rect x="186.3" y="419.14" width="9.6" height="10" fill="#D28585"/>
<rect x="213.9" y="404.12" width="9.6" height="10" fill="#D28585"/>
<rect x="241.5" y="404.12" width="9.6" height="10" fill="#D28585"/>
<rect x="269.1" y="404.12" width="9.6" height="10" fill="#D28585"/>
<rect x="296.7" y="399.41" width="9.6" height="10" fill="#D28585"/>
<rect x="324.3" y="399.41" width="9.6" height="10" fill="#D28585"/>
<rect x="351.9" y="396.95" width="9.6" height="10" fill="#D28585"/>
<rect x="379.5" y="396.95" width="9.6" height="10" fill="#D28585"/>
<rect x="407.1" y="396.95" width="9.6" height="10" fill="#D28585"/>
<rect x="434.7" y="396.95" width="9.6" height="10" fill="#D28585"/>
<rect x="462.3" y="396.95" width="9.6" height="10" fill="#D28585"/>
<polyline points="80.7,618.3 108.3,550.59 135.9,483.78 163.5,439.16 191.1,439.16 218.7,424.14 246.3,424.14 273.9,424.14 301.5,414.28 329.1,414.28 356.7,414.28 384.3,409.57 411.9,409.57 439.5,409.57 467.1,409.57" fill="none" stroke="#4A7EBB" stroke-width="2.3" stroke-linejoin="round"/>
<path d="M80.7 612.4L86.1 618.3L80.7 624.2L75.3 618.3Z" fill="#4A7EBB"/>
<path d="M108.3 544.69L113.7 550.59L108.3 556.49L102.9 550.59Z" fill="#4A7EBB"/>
<path d="M135.9 477.88L141.3 483.78L135.9 489.68L130.5 483.78Z" fill="#4A7EBB"/>
<path d="M163.5 433.26L168.9 439.16L163.5 445.06L158.1 439.16Z" fill="#4A7EBB"/>
<path d="M191.1 433.26L196.5 439.16L191.1 445.06L185.7 439.16Z" fill="#4A7EBB"/>
<path d="M218.7 418.24L224.1 424.14L218.7 430.04L213.3 424.14Z" fill="#4A7EBB"/>
<path d="M246.3 418.24L251.7 424.14L246.3 430.04L240.9 424.14Z" fill="#4A7EBB"/>
<path d="M273.9 418.24L279.3 424.14L273.9 430.04L268.5 424.14Z" fill="#4A7EBB"/>
<path d="M301.5 408.38L306.9 414.28L301.5 420.18L296.1 414.28Z" fill="#4A7EBB"/>
<path d="M329.1 408.38L334.5 414.28L329.1 420.18L323.7 414.28Z" fill="#4A7EBB"/>
<path d="M356.7 408.38L362.1 414.28L356.7 420.18L351.3 414.28Z" fill="#4A7EBB"/>
<path d="M384.3 403.67L389.7 409.57L384.3 415.47L378.9 409.57Z" fill="#4A7EBB"/>
<path d="M411.9 403.67L417.3 409.57L411.9 415.47L406.5 409.57Z" fill="#4A7EBB"/>
<path d="M439.5 403.67L444.9 409.57L439.5 415.47L434.1 409.57Z" fill="#4A7EBB"/>
<path d="M467.1 403.67L472.5 409.57L467.1 415.47L461.7 409.57Z" fill="#4A7EBB"/>
<path d="M384.3 597V616M379.8 597h9M379.8 616h9M411.9 593V613M407.4 593h9M407.4 613h9M439.5 590V609M435 590h9M435 609h9M467.1 590V609M462.6 590h9M462.6 609h9M135.9 587V597M131.4 587h9M131.4 597h9M191.1 557V567M186.6 557h9M186.6 567h9M301.5 491V500M297 491h9M297 500h9M439.5 464V473M435 464h9M435 473h9M467.1 456V466M462.6 456h9M462.6 466h9M135.9 613V623M131.4 613h9M131.4 623h9M191.1 610V618M186.6 610h9M186.6 618h9M218.7 610V618M214.2 610h9M214.2 618h9M246.3 610V618M241.8 610h9M241.8 618h9M273.9 610V618M269.4 610h9M269.4 618h9M301.5 601V612M297 601h9M297 612h9M329.1 601V612M324.6 601h9M324.6 612h9M356.7 601V612M352.2 601h9M352.2 612h9M384.3 601V612M379.8 601h9M379.8 612h9M411.9 601V612M407.4 601h9M407.4 612h9M439.5 601V612M435 601h9M435 612h9M467.1 601V612M462.6 601h9M462.6 612h9M135.9 529V536M131.4 529h9M131.4 536h9M163.5 513V521M159 513h9M159 521h9M191.1 499V508M186.6 499h9M186.6 508h9M218.7 483V491M214.2 483h9M214.2 491h9M246.3 459V479M241.8 459h9M241.8 479h9M273.9 452V472M269.4 452h9M269.4 472h9M329.1 447V455M324.6 447h9M324.6 455h9M356.7 446V454M352.2 446h9M352.2 454h9M108.3 499V512M103.8 499h9M103.8 512h9M135.9 425V439M131.4 425h9M131.4 439h9M163.5 420V428M159 420h9M159 428h9M191.1 420V428M186.6 420h9M186.6 428h9M108.3 547V554M103.8 547h9M103.8 554h9M135.9 473V495M131.4 473h9M131.4 495h9M163.5 432V446M159 432h9M159 446h9M191.1 432V446M186.6 432h9M186.6 446h9M218.7 420V428M214.2 420h9M214.2 428h9M384.3 395V403M379.8 395h9M379.8 403h9M439.5 395V403M435 395h9M435 403h9M467.1 395V403M462.6 395h9M462.6 403h9" stroke="#000" stroke-width="2" fill="none" clip-path="url(#c618)"/>
<path d="M103.8 479.5h9M131.4 403.5h9M159 572.5h9M214.2 531.5h9M241.8 524.5h9M269.4 510.5h9M324.6 487.5h9M352.2 484.5h9M379.8 476.5h9M407.4 476.5h9M103.8 394.5h9M131.4 394.5h9M159 394.5h9M186.6 394.5h9M214.2 394.5h9M241.8 394.5h9M269.4 394.5h9M297 394.5h9M324.6 394.5h9M352.2 394.5h9M379.8 394.5h9M407.4 394.5h9M435 394.5h9M462.6 394.5h9M103.8 610.5h9M297 454.5h9M379.8 447.5h9M407.4 447.5h9M435 447.5h9M462.6 447.5h9M214.2 409.5h9M241.8 409.5h9M269.4 409.5h9M297 404.5h9M324.6 404.5h9M352.2 401.5h9M379.8 401.5h9M407.4 401.5h9M435 401.5h9M462.6 401.5h9M241.8 424.5h9M269.4 424.5h9M297 414.5h9M324.6 414.5h9M352.2 414.5h9M379.8 409.5h9M407.4 409.5h9M435 409.5h9M462.6 409.5h9" stroke="#000" stroke-width="2.8" fill="none"/>
<g transform="translate(48.09 623.9) scale(1 1.12)"><text x="0" y="0" font-size="15.3" style="font-kerning:none">0</text></g>
<g transform="translate(39.58 579.06) scale(1 1.12)"><text x="0" y="0" font-size="15.3" style="font-kerning:none">20</text></g>
<g transform="translate(39.58 534.22) scale(1 1.12)"><text x="0" y="0" font-size="15.3" style="font-kerning:none">40</text></g>
<g transform="translate(39.58 489.38) scale(1 1.12)"><text x="0" y="0" font-size="15.3" style="font-kerning:none">60</text></g>
<g transform="translate(39.58 444.54) scale(1 1.12)"><text x="0" y="0" font-size="15.3" style="font-kerning:none">80</text></g>
<g transform="translate(31.07 399.7) scale(1 1.12)"><path transform="translate(0 0) scale(0.007471 -0.007471)" d="M515 0L515 1237L197 1010L197 1180L530 1409L696 1409L696 0Z"/><text x="8.51" y="0" font-size="15.3" style="font-kerning:none">00</text></g>
<g transform="translate(76.75 641.4) scale(1 1.12)"><text x="0" y="0" font-size="15.3" style="font-kerning:none">0</text></g>
<g transform="translate(104.35 641.4) scale(1 1.12)"><path transform="translate(0 0) scale(0.007471 -0.007471)" d="M515 0L515 1237L197 1010L197 1180L530 1409L696 1409L696 0Z"/></g>
<g transform="translate(131.95 641.4) scale(1 1.12)"><text x="0" y="0" font-size="15.3" style="font-kerning:none">2</text></g>
<g transform="translate(159.55 641.4) scale(1 1.12)"><text x="0" y="0" font-size="15.3" style="font-kerning:none">3</text></g>
<g transform="translate(187.15 641.4) scale(1 1.12)"><text x="0" y="0" font-size="15.3" style="font-kerning:none">4</text></g>
<g transform="translate(214.75 641.4) scale(1 1.12)"><text x="0" y="0" font-size="15.3" style="font-kerning:none">5</text></g>
<g transform="translate(242.35 641.4) scale(1 1.12)"><text x="0" y="0" font-size="15.3" style="font-kerning:none">6</text></g>
<g transform="translate(269.95 641.4) scale(1 1.12)"><text x="0" y="0" font-size="15.3" style="font-kerning:none">7</text></g>
<g transform="translate(297.55 641.4) scale(1 1.12)"><text x="0" y="0" font-size="15.3" style="font-kerning:none">8</text></g>
<g transform="translate(325.15 641.4) scale(1 1.12)"><text x="0" y="0" font-size="15.3" style="font-kerning:none">9</text></g>
<g transform="translate(348.49 641.4) scale(1 1.12)"><path transform="translate(0 0) scale(0.007471 -0.007471)" d="M515 0L515 1237L197 1010L197 1180L530 1409L696 1409L696 0Z"/><text x="8.51" y="0" font-size="15.3" style="font-kerning:none">0</text></g>
<g transform="translate(376.09 641.4) scale(1 1.12)"><path transform="translate(0 0) scale(0.007471 -0.007471)" d="M515 0L515 1237L197 1010L197 1180L530 1409L696 1409L696 0Z"/><path transform="translate(8.51 0) scale(0.007471 -0.007471)" d="M515 0L515 1237L197 1010L197 1180L530 1409L696 1409L696 0Z"/></g>
<g transform="translate(403.69 641.4) scale(1 1.12)"><path transform="translate(0 0) scale(0.007471 -0.007471)" d="M515 0L515 1237L197 1010L197 1180L530 1409L696 1409L696 0Z"/><text x="8.51" y="0" font-size="15.3" style="font-kerning:none">2</text></g>
<g transform="translate(431.29 641.4) scale(1 1.12)"><path transform="translate(0 0) scale(0.007471 -0.007471)" d="M515 0L515 1237L197 1010L197 1180L530 1409L696 1409L696 0Z"/><text x="8.51" y="0" font-size="15.3" style="font-kerning:none">3</text></g>
<g transform="translate(458.89 641.4) scale(1 1.12)"><path transform="translate(0 0) scale(0.007471 -0.007471)" d="M515 0L515 1237L197 1010L197 1180L530 1409L696 1409L696 0Z"/><text x="8.51" y="0" font-size="15.3" style="font-kerning:none">4</text></g>
<text x="274.2" y="668.7" text-anchor="middle" font-size="15.8">imbibition days</text>
<text transform="translate(16.3 506.2) rotate(-90)" text-anchor="middle" font-size="15.8">rate of germination(%)</text>
<g transform="translate(239.86 373.7) scale(1 0.96)"><text x="0" y="0" font-size="16.1" style="font-kerning:none">D 20°C</text></g>
<line x1="532.2" y1="393.4" x2="543.2" y2="393.4" stroke="#4A7EBB" stroke-width="2"/>
<path d="M537.7 387.5L543.1 393.4L537.7 399.3L532.3 393.4Z" fill="#4A7EBB"/>
<text x="550.6" y="397.2" font-size="11.8">water</text>
<line x1="532.2" y1="406" x2="543.2" y2="406" stroke="#C97878" stroke-width="2"/>
<rect x="533.86" y="402" width="7.68" height="8" fill="#D28585"/>
<text x="550.6" y="409.8" font-size="11.8">GA</text>
<line x1="532.2" y1="416.9" x2="543.2" y2="416.9" stroke="#52951A" stroke-width="2"/>
<rect x="533.86" y="412.9" width="7.68" height="8" fill="#52951A"/>
<text x="550.6" y="420.4" font-size="11.8">Paclobutrazol</text>
<line x1="532.2" y1="428.9" x2="543.2" y2="428.9" stroke="#F79646" stroke-width="2"/>
<ellipse cx="537.7" cy="428.9" rx="3.68" ry="3.88" fill="#F79646"/>
<text x="550.6" y="431.7" font-size="11.8">Ethylene</text>
<line x1="532.2" y1="439.8" x2="543.2" y2="439.8" stroke="#862A8E" stroke-width="2"/>
<ellipse cx="537.7" cy="439.8" rx="3.68" ry="3.88" fill="#862A8E"/>
<text x="550.6" y="443.8" font-size="11.8">AIB</text>
<line x1="532.2" y1="451" x2="543.2" y2="451" stroke="#CC80FF" stroke-width="2"/>
<ellipse cx="537.7" cy="451" rx="3.68" ry="3.88" fill="#CC80FF"/>
<text x="550.6" y="454.6" font-size="11.8">AOA</text>
<line x1="532.2" y1="462.6" x2="543.2" y2="462.6" stroke="#7FCCF5" stroke-width="2"/>
<path d="M537.7 458.82L539.13 461.2L542.24 461.62L540.01 463.51L540.5 466.15L537.7 464.94L534.9 466.15L535.39 463.51L533.16 461.62L536.27 461.2Z" fill="#7FCCF5"/>
<text x="550.6" y="466.7" font-size="11.8">ABA</text>
<line x1="532.2" y1="473.3" x2="543.2" y2="473.3" stroke="#F03A12" stroke-width="2"/>
<path d="M537.7 468.29L541.61 475.68L533.79 475.68Z" fill="#F03A12"/>
<text x="550.6" y="478.1" font-size="11.8">Fluridone</text>
<line x1="83.7" y1="935.6" x2="468" y2="935.6" stroke="#989898" stroke-width="1.5" stroke-dasharray="1.2 1.8"/>
<line x1="83.7" y1="890.9" x2="468" y2="890.9" stroke="#989898" stroke-width="1.5" stroke-dasharray="1.2 1.8"/>
<line x1="83.7" y1="846.2" x2="468" y2="846.2" stroke="#989898" stroke-width="1.5" stroke-dasharray="1.2 1.8"/>
<line x1="83.7" y1="801.5" x2="468" y2="801.5" stroke="#989898" stroke-width="1.5" stroke-dasharray="1.2 1.8"/>
<line x1="83.7" y1="756.8" x2="160" y2="756.8" stroke="#989898" stroke-width="1.5" stroke-dasharray="1.2 1.8"/>
<line x1="81" y1="755.8" x2="81" y2="980.3" stroke="#8c8c8c" stroke-width="2"/>
<line x1="75" y1="980.3" x2="81" y2="980.3" stroke="#8c8c8c" stroke-width="2"/>
<line x1="75" y1="935.6" x2="81" y2="935.6" stroke="#8c8c8c" stroke-width="2"/>
<line x1="75" y1="890.9" x2="81" y2="890.9" stroke="#8c8c8c" stroke-width="2"/>
<line x1="75" y1="846.2" x2="81" y2="846.2" stroke="#8c8c8c" stroke-width="2"/>
<line x1="75" y1="801.5" x2="81" y2="801.5" stroke="#8c8c8c" stroke-width="2"/>
<line x1="75" y1="756.8" x2="81" y2="756.8" stroke="#8c8c8c" stroke-width="2"/>
<line x1="80" y1="980.3" x2="468" y2="980.3" stroke="#8c8c8c" stroke-width="2"/>
<line x1="80.7" y1="980.3" x2="80.7" y2="985.8" stroke="#8c8c8c" stroke-width="2"/>
<line x1="108.3" y1="980.3" x2="108.3" y2="985.8" stroke="#8c8c8c" stroke-width="2"/>
<line x1="135.9" y1="980.3" x2="135.9" y2="985.8" stroke="#8c8c8c" stroke-width="2"/>
<line x1="163.5" y1="980.3" x2="163.5" y2="985.8" stroke="#8c8c8c" stroke-width="2"/>
<line x1="191.1" y1="980.3" x2="191.1" y2="985.8" stroke="#8c8c8c" stroke-width="2"/>
<line x1="218.7" y1="980.3" x2="218.7" y2="985.8" stroke="#8c8c8c" stroke-width="2"/>
<line x1="246.3" y1="980.3" x2="246.3" y2="985.8" stroke="#8c8c8c" stroke-width="2"/>
<line x1="273.9" y1="980.3" x2="273.9" y2="985.8" stroke="#8c8c8c" stroke-width="2"/>
<line x1="301.5" y1="980.3" x2="301.5" y2="985.8" stroke="#8c8c8c" stroke-width="2"/>
<line x1="329.1" y1="980.3" x2="329.1" y2="985.8" stroke="#8c8c8c" stroke-width="2"/>
<line x1="356.7" y1="980.3" x2="356.7" y2="985.8" stroke="#8c8c8c" stroke-width="2"/>
<line x1="384.3" y1="980.3" x2="384.3" y2="985.8" stroke="#8c8c8c" stroke-width="2"/>
<line x1="411.9" y1="980.3" x2="411.9" y2="985.8" stroke="#8c8c8c" stroke-width="2"/>
<line x1="439.5" y1="980.3" x2="439.5" y2="985.8" stroke="#8c8c8c" stroke-width="2"/>
<line x1="467.1" y1="980.3" x2="467.1" y2="985.8" stroke="#8c8c8c" stroke-width="2"/>
<clipPath id="c980"><rect x="0" y="0" width="622" height="980.8"/></clipPath>
<polyline points="80.7,980.3 108.3,980.3 135.9,975.83 163.5,908.11 191.1,832.57 218.7,810.66 246.3,807.31 273.9,806.64 301.5,806.64 329.1,806.64 356.7,806.64 384.3,806.64 411.9,806.64 439.5,806.64 467.1,806.64" fill="none" stroke="#7FCCF5" stroke-width="2.3" stroke-linejoin="round"/>
<path d="M80.7 976.09L82.29 978.74L85.74 979.21L83.27 981.31L83.82 984.24L80.7 982.89L77.58 984.24L78.13 981.31L75.66 979.21L79.11 978.74Z" fill="#7FCCF5"/>
<path d="M108.3 976.09L109.89 978.74L113.34 979.21L110.87 981.31L111.42 984.24L108.3 982.89L105.18 984.24L105.73 981.31L103.26 979.21L106.71 978.74Z" fill="#7FCCF5"/>
<path d="M135.9 971.62L137.49 974.27L140.94 974.74L138.47 976.84L139.02 979.77L135.9 978.42L132.78 979.77L133.33 976.84L130.86 974.74L134.31 974.27Z" fill="#7FCCF5"/>
<path d="M163.5 903.9L165.09 906.55L168.54 907.02L166.07 909.12L166.62 912.05L163.5 910.7L160.38 912.05L160.93 909.12L158.46 907.02L161.91 906.55Z" fill="#7FCCF5"/>
<path d="M191.1 828.36L192.69 831.01L196.14 831.47L193.67 833.58L194.22 836.51L191.1 835.16L187.98 836.51L188.53 833.58L186.06 831.47L189.51 831.01Z" fill="#7FCCF5"/>
<path d="M218.7 806.46L220.29 809.11L223.74 809.57L221.27 811.67L221.82 814.61L218.7 813.26L215.58 814.61L216.13 811.67L213.66 809.57L217.11 809.11Z" fill="#7FCCF5"/>
<path d="M246.3 803.11L247.89 805.75L251.34 806.22L248.87 808.32L249.42 811.26L246.3 809.91L243.18 811.26L243.73 808.32L241.26 806.22L244.71 805.75Z" fill="#7FCCF5"/>
<path d="M273.9 802.44L275.49 805.08L278.94 805.55L276.47 807.65L277.02 810.59L273.9 809.24L270.78 810.59L271.33 807.65L268.86 805.55L272.31 805.08Z" fill="#7FCCF5"/>
<path d="M301.5 802.44L303.09 805.08L306.54 805.55L304.07 807.65L304.62 810.59L301.5 809.24L298.38 810.59L298.93 807.65L296.46 805.55L299.91 805.08Z" fill="#7FCCF5"/>
<path d="M329.1 802.44L330.69 805.08L334.14 805.55L331.67 807.65L332.22 810.59L329.1 809.24L325.98 810.59L326.53 807.65L324.06 805.55L327.51 805.08Z" fill="#7FCCF5"/>
<path d="M356.7 802.44L358.29 805.08L361.74 805.55L359.27 807.65L359.82 810.59L356.7 809.24L353.58 810.59L354.13 807.65L351.66 805.55L355.11 805.08Z" fill="#7FCCF5"/>
<path d="M384.3 802.44L385.89 805.08L389.34 805.55L386.87 807.65L387.42 810.59L384.3 809.24L381.18 810.59L381.73 807.65L379.26 805.55L382.71 805.08Z" fill="#7FCCF5"/>
<path d="M411.9 802.44L413.49 805.08L416.94 805.55L414.47 807.65L415.02 810.59L411.9 809.24L408.78 810.59L409.33 807.65L406.86 805.55L410.31 805.08Z" fill="#7FCCF5"/>
<path d="M439.5 802.44L441.09 805.08L444.54 805.55L442.07 807.65L442.62 810.59L439.5 809.24L436.38 810.59L436.93 807.65L434.46 805.55L437.91 805.08Z" fill="#7FCCF5"/>
<path d="M467.1 802.44L468.69 805.08L472.14 805.55L469.67 807.65L470.22 810.59L467.1 809.24L463.98 810.59L464.53 807.65L462.06 805.55L465.51 805.08Z" fill="#7FCCF5"/>
<polyline points="80.7,980.3 108.3,980.3 135.9,980.3 163.5,863.86 191.1,821.39 218.7,804.18 246.3,779.37 273.9,779.37 301.5,779.37 329.1,779.6 356.7,779.6 384.3,779.6 411.9,779.6 439.5,779.6 467.1,779.6" fill="none" stroke="#CC80FF" stroke-width="2.3" stroke-linejoin="round"/>
<ellipse cx="80.7" cy="980.3" rx="4.6" ry="4.85" fill="#CC80FF"/>
<ellipse cx="108.3" cy="980.3" rx="4.6" ry="4.85" fill="#CC80FF"/>
<ellipse cx="135.9" cy="980.3" rx="4.6" ry="4.85" fill="#CC80FF"/>
<ellipse cx="163.5" cy="863.86" rx="4.6" ry="4.85" fill="#CC80FF"/>
<ellipse cx="191.1" cy="821.39" rx="4.6" ry="4.85" fill="#CC80FF"/>
<ellipse cx="218.7" cy="804.18" rx="4.6" ry="4.85" fill="#CC80FF"/>
<ellipse cx="246.3" cy="779.37" rx="4.6" ry="4.85" fill="#CC80FF"/>
<ellipse cx="273.9" cy="779.37" rx="4.6" ry="4.85" fill="#CC80FF"/>
<ellipse cx="301.5" cy="779.37" rx="4.6" ry="4.85" fill="#CC80FF"/>
<ellipse cx="329.1" cy="779.6" rx="4.6" ry="4.85" fill="#CC80FF"/>
<ellipse cx="356.7" cy="779.6" rx="4.6" ry="4.85" fill="#CC80FF"/>
<ellipse cx="384.3" cy="779.6" rx="4.6" ry="4.85" fill="#CC80FF"/>
<ellipse cx="411.9" cy="779.6" rx="4.6" ry="4.85" fill="#CC80FF"/>
<ellipse cx="439.5" cy="779.6" rx="4.6" ry="4.85" fill="#CC80FF"/>
<ellipse cx="467.1" cy="779.6" rx="4.6" ry="4.85" fill="#CC80FF"/>
<polyline points="80.7,980.3 108.3,980.3 135.9,980.3 163.5,942.75 191.1,893.36 218.7,835.47 246.3,810.22 273.9,805.75 301.5,804.41 329.1,802.84 356.7,802.84 384.3,802.84 411.9,802.84 439.5,802.84 467.1,802.84" fill="none" stroke="#862A8E" stroke-width="2.3" stroke-linejoin="round"/>
<ellipse cx="80.7" cy="980.3" rx="4.6" ry="4.85" fill="#862A8E"/>
<ellipse cx="108.3" cy="980.3" rx="4.6" ry="4.85" fill="#862A8E"/>
<ellipse cx="135.9" cy="980.3" rx="4.6" ry="4.85" fill="#862A8E"/>
<ellipse cx="163.5" cy="942.75" rx="4.6" ry="4.85" fill="#862A8E"/>
<ellipse cx="191.1" cy="893.36" rx="4.6" ry="4.85" fill="#862A8E"/>
<ellipse cx="218.7" cy="835.47" rx="4.6" ry="4.85" fill="#862A8E"/>
<ellipse cx="246.3" cy="810.22" rx="4.6" ry="4.85" fill="#862A8E"/>
<ellipse cx="273.9" cy="805.75" rx="4.6" ry="4.85" fill="#862A8E"/>
<ellipse cx="301.5" cy="804.41" rx="4.6" ry="4.85" fill="#862A8E"/>
<ellipse cx="329.1" cy="802.84" rx="4.6" ry="4.85" fill="#862A8E"/>
<ellipse cx="356.7" cy="802.84" rx="4.6" ry="4.85" fill="#862A8E"/>
<ellipse cx="384.3" cy="802.84" rx="4.6" ry="4.85" fill="#862A8E"/>
<ellipse cx="411.9" cy="802.84" rx="4.6" ry="4.85" fill="#862A8E"/>
<ellipse cx="439.5" cy="802.84" rx="4.6" ry="4.85" fill="#862A8E"/>
<ellipse cx="467.1" cy="802.84" rx="4.6" ry="4.85" fill="#862A8E"/>
<polyline points="80.7,980.3 108.3,980.3 135.9,864.53 163.5,756.8 191.1,756.8 218.7,756.8 246.3,756.8 273.9,756.8 301.5,756.8 329.1,756.8 356.7,756.8 384.3,756.8 411.9,756.8 439.5,756.8 467.1,756.8" fill="none" stroke="#C97878" stroke-width="2.3" stroke-linejoin="round"/>
<polyline points="80.7,980.3 108.3,980.3 135.9,879.05 163.5,756.8 191.1,756.8 218.7,756.8 246.3,756.8 273.9,756.8 301.5,756.8 329.1,756.8 356.7,756.8 384.3,756.8 411.9,756.8 439.5,756.8 467.1,756.8" fill="none" stroke="#F03A12" stroke-width="2.3" stroke-linejoin="round"/>
<path d="M80.7 974.4L85.3 983.1L76.1 983.1Z" fill="#F03A12"/>
<path d="M108.3 974.4L112.9 983.1L103.7 983.1Z" fill="#F03A12"/>
<path d="M135.9 873.15L140.5 881.85L131.3 881.85Z" fill="#F03A12"/>
<path d="M163.5 750.9L168.1 759.6L158.9 759.6Z" fill="#F03A12"/>
<path d="M191.1 750.9L195.7 759.6L186.5 759.6Z" fill="#F03A12"/>
<path d="M218.7 750.9L223.3 759.6L214.1 759.6Z" fill="#F03A12"/>
<path d="M246.3 750.9L250.9 759.6L241.7 759.6Z" fill="#F03A12"/>
<path d="M273.9 750.9L278.5 759.6L269.3 759.6Z" fill="#F03A12"/>
<path d="M301.5 750.9L306.1 759.6L296.9 759.6Z" fill="#F03A12"/>
<path d="M329.1 750.9L333.7 759.6L324.5 759.6Z" fill="#F03A12"/>
<path d="M356.7 750.9L361.3 759.6L352.1 759.6Z" fill="#F03A12"/>
<path d="M384.3 750.9L388.9 759.6L379.7 759.6Z" fill="#F03A12"/>
<path d="M411.9 750.9L416.5 759.6L407.3 759.6Z" fill="#F03A12"/>
<path d="M439.5 750.9L444.1 759.6L434.9 759.6Z" fill="#F03A12"/>
<path d="M467.1 750.9L471.7 759.6L462.5 759.6Z" fill="#F03A12"/>
<polyline points="80.7,980.3 108.3,980.3 135.9,825.86 163.5,756.8 191.1,756.8 218.7,756.8 246.3,756.8 273.9,756.8 301.5,756.8 329.1,756.8 356.7,756.8 384.3,756.8 411.9,756.8 439.5,756.8 467.1,756.8" fill="none" stroke="#F79646" stroke-width="2.3" stroke-linejoin="round"/>
<ellipse cx="80.7" cy="980.3" rx="4.6" ry="4.85" fill="#F79646"/>
<ellipse cx="108.3" cy="980.3" rx="4.6" ry="4.85" fill="#F79646"/>
<ellipse cx="135.9" cy="825.86" rx="4.6" ry="4.85" fill="#F79646"/>
<ellipse cx="163.5" cy="756.8" rx="4.6" ry="4.85" fill="#F79646"/>
<ellipse cx="191.1" cy="756.8" rx="4.6" ry="4.85" fill="#F79646"/>
<ellipse cx="218.7" cy="756.8" rx="4.6" ry="4.85" fill="#F79646"/>
<ellipse cx="246.3" cy="756.8" rx="4.6" ry="4.85" fill="#F79646"/>
<ellipse cx="273.9" cy="756.8" rx="4.6" ry="4.85" fill="#F79646"/>
<ellipse cx="301.5" cy="756.8" rx="4.6" ry="4.85" fill="#F79646"/>
<ellipse cx="329.1" cy="756.8" rx="4.6" ry="4.85" fill="#F79646"/>
<ellipse cx="356.7" cy="756.8" rx="4.6" ry="4.85" fill="#F79646"/>
<ellipse cx="384.3" cy="756.8" rx="4.6" ry="4.85" fill="#F79646"/>
<ellipse cx="411.9" cy="756.8" rx="4.6" ry="4.85" fill="#F79646"/>
<ellipse cx="439.5" cy="756.8" rx="4.6" ry="4.85" fill="#F79646"/>
<ellipse cx="467.1" cy="756.8" rx="4.6" ry="4.85" fill="#F79646"/>
<polyline points="80.7,980.3 108.3,980.3 135.9,980.3 163.5,854.69 191.1,785.86 218.7,785.86 246.3,785.86 273.9,785.86 301.5,785.86 329.1,785.86 356.7,785.86 384.3,785.86 411.9,785.86 439.5,785.86 467.1,785.86" fill="none" stroke="#52951A" stroke-width="2.3" stroke-linejoin="round"/>
<rect x="75.9" y="975.3" width="9.6" height="10" fill="#52951A"/>
<rect x="103.5" y="975.3" width="9.6" height="10" fill="#52951A"/>
<rect x="131.1" y="975.3" width="9.6" height="10" fill="#52951A"/>
<rect x="158.7" y="849.69" width="9.6" height="10" fill="#52951A"/>
<rect x="186.3" y="780.86" width="9.6" height="10" fill="#52951A"/>
<rect x="213.9" y="780.86" width="9.6" height="10" fill="#52951A"/>
<rect x="241.5" y="780.86" width="9.6" height="10" fill="#52951A"/>
<rect x="269.1" y="780.86" width="9.6" height="10" fill="#52951A"/>
<rect x="296.7" y="780.86" width="9.6" height="10" fill="#52951A"/>
<rect x="324.3" y="780.86" width="9.6" height="10" fill="#52951A"/>
<rect x="351.9" y="780.86" width="9.6" height="10" fill="#52951A"/>
<rect x="379.5" y="780.86" width="9.6" height="10" fill="#52951A"/>
<rect x="407.1" y="780.86" width="9.6" height="10" fill="#52951A"/>
<rect x="434.7" y="780.86" width="9.6" height="10" fill="#52951A"/>
<rect x="462.3" y="780.86" width="9.6" height="10" fill="#52951A"/>
<polyline points="80.7,980.3 108.3,980.3 135.9,900.96 163.5,760.38 191.1,756.8 218.7,756.8 246.3,756.8 273.9,756.8 301.5,756.8 329.1,756.8 356.7,756.8 384.3,756.8 411.9,756.8 439.5,756.8 467.1,756.8" fill="none" stroke="#3F6A9E" stroke-width="2.3" stroke-linejoin="round"/>
<path d="M80.7 974.4L86.1 980.3L80.7 986.2L75.3 980.3Z" fill="#3F6A9E"/>
<path d="M108.3 974.4L113.7 980.3L108.3 986.2L102.9 980.3Z" fill="#3F6A9E"/>
<path d="M135.9 895.06L141.3 900.96L135.9 906.86L130.5 900.96Z" fill="#3F6A9E"/>
<path d="M163.5 754.48L168.9 760.38L163.5 766.28L158.1 760.38Z" fill="#3F6A9E"/>
<path d="M191.1 750.9L196.5 756.8L191.1 762.7L185.7 756.8Z" fill="#3F6A9E"/>
<path d="M218.7 750.9L224.1 756.8L218.7 762.7L213.3 756.8Z" fill="#3F6A9E"/>
<path d="M246.3 750.9L251.7 756.8L246.3 762.7L240.9 756.8Z" fill="#3F6A9E"/>
<path d="M273.9 750.9L279.3 756.8L273.9 762.7L268.5 756.8Z" fill="#3F6A9E"/>
<path d="M301.5 750.9L306.9 756.8L301.5 762.7L296.1 756.8Z" fill="#3F6A9E"/>
<path d="M329.1 750.9L334.5 756.8L329.1 762.7L323.7 756.8Z" fill="#3F6A9E"/>
<path d="M356.7 750.9L362.1 756.8L356.7 762.7L351.3 756.8Z" fill="#3F6A9E"/>
<path d="M384.3 750.9L389.7 756.8L384.3 762.7L378.9 756.8Z" fill="#3F6A9E"/>
<path d="M411.9 750.9L417.3 756.8L411.9 762.7L406.5 756.8Z" fill="#3F6A9E"/>
<path d="M439.5 750.9L444.9 756.8L439.5 762.7L434.1 756.8Z" fill="#3F6A9E"/>
<path d="M467.1 750.9L472.5 756.8L467.1 762.7L461.7 756.8Z" fill="#3F6A9E"/>
<path d="M135.9 958V994M131.4 958h9M131.4 994h9M163.5 904V912M159 904h9M159 912h9M191.1 813V852M186.6 813h9M186.6 852h9M218.7 793V829M214.2 793h9M214.2 829h9M246.3 789V825M241.8 789h9M241.8 825h9M273.9 789V825M269.4 789h9M269.4 825h9M301.5 789V825M297 789h9M297 825h9M329.1 789V825M324.6 789h9M324.6 825h9M356.7 789V825M352.2 789h9M352.2 825h9M384.3 789V825M379.8 789h9M379.8 825h9M411.9 789V825M407.4 789h9M407.4 825h9M439.5 789V825M435 789h9M435 825h9M467.1 789V825M462.6 789h9M462.6 825h9M135.9 948V1012M131.4 948h9M131.4 1012h9M163.5 846V882M159 846h9M159 882h9M191.1 817V826M186.6 817h9M186.6 826h9M218.7 791V817M214.2 791h9M214.2 817h9M246.3 767V792M241.8 767h9M241.8 792h9M273.9 767V792M269.4 767h9M269.4 792h9M301.5 767V792M297 767h9M297 792h9M329.1 767V792M324.6 767h9M324.6 792h9M356.7 767V792M352.2 767h9M352.2 792h9M384.3 767V792M379.8 767h9M379.8 792h9M411.9 767V792M407.4 767h9M407.4 792h9M439.5 767V792M435 767h9M435 792h9M467.1 767V792M462.6 767h9M462.6 792h9M163.5 926V960M159 926h9M159 960h9M191.1 867V919M186.6 867h9M186.6 919h9M218.7 821V850M214.2 821h9M214.2 850h9M246.3 791V829M241.8 791h9M241.8 829h9M273.9 787V824M269.4 787h9M269.4 824h9M301.5 786V823M297 786h9M297 823h9M329.1 782V824M324.6 782h9M324.6 824h9M356.7 782V824M352.2 782h9M352.2 824h9M384.3 782V824M379.8 782h9M379.8 824h9M411.9 782V824M407.4 782h9M407.4 824h9M439.5 782V824M435 782h9M435 824h9M467.1 782V824M462.6 782h9M462.6 824h9M108.3 970V990M103.8 970h9M103.8 990h9M135.9 861V868M131.4 861h9M131.4 868h9M108.3 976V985M103.8 976h9M103.8 985h9M135.9 968V992M131.4 968h9M131.4 992h9M163.5 829V880M159 829h9M159 880h9M191.1 761V810M186.6 761h9M186.6 810h9M218.7 761V810M214.2 761h9M214.2 810h9M246.3 761V810M241.8 761h9M241.8 810h9M273.9 761V810M269.4 761h9M269.4 810h9M301.5 761V810M297 761h9M297 810h9M329.1 761V810M324.6 761h9M324.6 810h9M356.7 761V810M352.2 761h9M352.2 810h9M384.3 761V810M379.8 761h9M379.8 810h9M411.9 761V810M407.4 761h9M407.4 810h9M439.5 761V810M435 761h9M435 810h9M467.1 761V810M462.6 761h9M462.6 810h9M108.3 969V991M103.8 969h9M103.8 991h9" stroke="#000" stroke-width="2" fill="none" clip-path="url(#c980)"/>
<path d="M131.4 879.5h9M131.4 825.5h9M159 760.5h9" stroke="#000" stroke-width="2.8" fill="none"/>
<g transform="translate(48.09 985.9) scale(1 1.12)"><text x="0" y="0" font-size="15.3" style="font-kerning:none">0</text></g>
<g transform="translate(39.58 941.2) scale(1 1.12)"><text x="0" y="0" font-size="15.3" style="font-kerning:none">20</text></g>
<g transform="translate(39.58 896.5) scale(1 1.12)"><text x="0" y="0" font-size="15.3" style="font-kerning:none">40</text></g>
<g transform="translate(39.58 851.8) scale(1 1.12)"><text x="0" y="0" font-size="15.3" style="font-kerning:none">60</text></g>
<g transform="translate(39.58 807.1) scale(1 1.12)"><text x="0" y="0" font-size="15.3" style="font-kerning:none">80</text></g>
<g transform="translate(31.07 762.4) scale(1 1.12)"><path transform="translate(0 0) scale(0.007471 -0.007471)" d="M515 0L515 1237L197 1010L197 1180L530 1409L696 1409L696 0Z"/><text x="8.51" y="0" font-size="15.3" style="font-kerning:none">00</text></g>
<g transform="translate(76.75 1003.7) scale(1 1.12)"><text x="0" y="0" font-size="15.3" style="font-kerning:none">0</text></g>
<g transform="translate(104.35 1003.7) scale(1 1.12)"><path transform="translate(0 0) scale(0.007471 -0.007471)" d="M515 0L515 1237L197 1010L197 1180L530 1409L696 1409L696 0Z"/></g>
<g transform="translate(131.95 1003.7) scale(1 1.12)"><text x="0" y="0" font-size="15.3" style="font-kerning:none">2</text></g>
<g transform="translate(159.55 1003.7) scale(1 1.12)"><text x="0" y="0" font-size="15.3" style="font-kerning:none">3</text></g>
<g transform="translate(187.15 1003.7) scale(1 1.12)"><text x="0" y="0" font-size="15.3" style="font-kerning:none">4</text></g>
<g transform="translate(214.75 1003.7) scale(1 1.12)"><text x="0" y="0" font-size="15.3" style="font-kerning:none">5</text></g>
<g transform="translate(242.35 1003.7) scale(1 1.12)"><text x="0" y="0" font-size="15.3" style="font-kerning:none">6</text></g>
<g transform="translate(269.95 1003.7) scale(1 1.12)"><text x="0" y="0" font-size="15.3" style="font-kerning:none">7</text></g>
<g transform="translate(297.55 1003.7) scale(1 1.12)"><text x="0" y="0" font-size="15.3" style="font-kerning:none">8</text></g>
<g transform="translate(325.15 1003.7) scale(1 1.12)"><text x="0" y="0" font-size="15.3" style="font-kerning:none">9</text></g>
<g transform="translate(348.49 1003.7) scale(1 1.12)"><path transform="translate(0 0) scale(0.007471 -0.007471)" d="M515 0L515 1237L197 1010L197 1180L530 1409L696 1409L696 0Z"/><text x="8.51" y="0" font-size="15.3" style="font-kerning:none">0</text></g>
<g transform="translate(376.09 1003.7) scale(1 1.12)"><path transform="translate(0 0) scale(0.007471 -0.007471)" d="M515 0L515 1237L197 1010L197 1180L530 1409L696 1409L696 0Z"/><path transform="translate(8.51 0) scale(0.007471 -0.007471)" d="M515 0L515 1237L197 1010L197 1180L530 1409L696 1409L696 0Z"/></g>
<g transform="translate(403.69 1003.7) scale(1 1.12)"><path transform="translate(0 0) scale(0.007471 -0.007471)" d="M515 0L515 1237L197 1010L197 1180L530 1409L696 1409L696 0Z"/><text x="8.51" y="0" font-size="15.3" style="font-kerning:none">2</text></g>
<g transform="translate(431.29 1003.7) scale(1 1.12)"><path transform="translate(0 0) scale(0.007471 -0.007471)" d="M515 0L515 1237L197 1010L197 1180L530 1409L696 1409L696 0Z"/><text x="8.51" y="0" font-size="15.3" style="font-kerning:none">3</text></g>
<g transform="translate(458.89 1003.7) scale(1 1.12)"><path transform="translate(0 0) scale(0.007471 -0.007471)" d="M515 0L515 1237L197 1010L197 1180L530 1409L696 1409L696 0Z"/><text x="8.51" y="0" font-size="15.3" style="font-kerning:none">4</text></g>
<text x="274.2" y="1031.3" text-anchor="middle" font-size="15.8">imbibition days</text>
<text transform="translate(16.5 868.55) rotate(-90)" text-anchor="middle" font-size="15.8">rate of germination(%)</text>
<g transform="translate(232.55 738) scale(1 0.96)"><text x="0" y="0" font-size="16.1" style="font-kerning:none">ND </text><path transform="translate(27.73 0) scale(0.007861 -0.007861)" d="M515 0L515 1237L197 1010L197 1180L530 1409L696 1409L696 0Z"/><text x="36.68" y="0" font-size="16.1" style="font-kerning:none">0°C</text></g>
<line x1="532.2" y1="753.9" x2="543.2" y2="753.9" stroke="#3F6A9E" stroke-width="2"/>
<path d="M537.7 748L543.1 753.9L537.7 759.8L532.3 753.9Z" fill="#3F6A9E"/>
<text x="550.6" y="758.2" font-size="11.8">water</text>
<line x1="532.2" y1="764.8" x2="543.2" y2="764.8" stroke="#C97878" stroke-width="2"/>
<rect x="533.86" y="760.8" width="7.68" height="8" fill="#D28585"/>
<text x="550.6" y="768.9" font-size="11.8">GA</text>
<line x1="532.2" y1="775.5" x2="543.2" y2="775.5" stroke="#52951A" stroke-width="2"/>
<rect x="533.86" y="771.5" width="7.68" height="8" fill="#52951A"/>
<text x="550.6" y="779.5" font-size="11.8">Paclobutrazol</text>
<line x1="532.2" y1="788" x2="543.2" y2="788" stroke="#F79646" stroke-width="2"/>
<ellipse cx="537.7" cy="788" rx="3.68" ry="3.88" fill="#F79646"/>
<text x="550.6" y="791.8" font-size="11.8">Ethylene</text>
<line x1="532.2" y1="798.9" x2="543.2" y2="798.9" stroke="#862A8E" stroke-width="2"/>
<ellipse cx="537.7" cy="798.9" rx="3.68" ry="3.88" fill="#862A8E"/>
<text x="550.6" y="802.6" font-size="11.8">AIB</text>
<line x1="532.2" y1="811.5" x2="543.2" y2="811.5" stroke="#CC80FF" stroke-width="2"/>
<ellipse cx="537.7" cy="811.5" rx="3.68" ry="3.88" fill="#CC80FF"/>
<text x="550.6" y="814.7" font-size="11.8">AOA</text>
<line x1="532.2" y1="822" x2="543.2" y2="822" stroke="#7FCCF5" stroke-width="2"/>
<path d="M537.7 818.22L539.13 820.6L542.24 821.02L540.01 822.91L540.5 825.55L537.7 824.34L534.9 825.55L535.39 822.91L533.16 821.02L536.27 820.6Z" fill="#7FCCF5"/>
<text x="550.6" y="825.6" font-size="11.8">ABA</text>
<line x1="532.2" y1="833" x2="543.2" y2="833" stroke="#F03A12" stroke-width="2"/>
<path d="M537.7 827.99L541.61 835.38L533.79 835.38Z" fill="#F03A12"/>
<text x="550.6" y="836.7" font-size="11.8">Fluridone</text>
</svg>
</body></html>
